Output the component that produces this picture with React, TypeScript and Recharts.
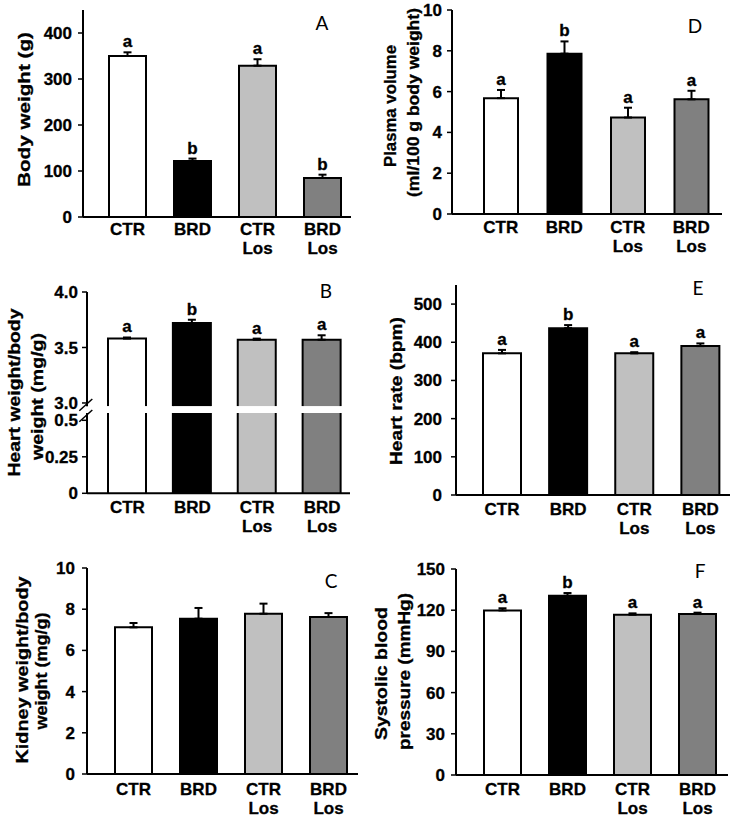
import React from 'react';
import { BarChart, Bar, XAxis, YAxis, ErrorBar, Cell, LabelList } from 'recharts';

const FONT = "'Liberation Sans', Arial, sans-serif";
const LETTER_FONT = "Lato, 'Open Sans', sans-serif";

const groups = ['CTR', 'BRD', 'CTR Los', 'BRD Los'];
const groupColors = ['#ffffff', '#000000', '#c0c0c0', '#808080'];

// A: body weight
const bodyWeight = [350, 122, 329, 85];
const bodyWeightSem = [8, 5, 14, 7];
const bodyWeightLetters = ['a', 'b', 'a', 'b'];
const bodyWeightTicks = [0, 100, 200, 300, 400];

// D: plasma volume
const plasmaVolume = [5.68, 7.86, 4.73, 5.62];
const plasmaVolumeSem = [0.4, 0.6, 0.48, 0.42];
const plasmaVolumeLetters = ['a', 'b', 'a', 'a'];
const plasmaVolumeTicks = [0, 2, 4, 6, 8, 10];

// B: heart weight / body weight (broken axis)
const heartWeight = [3.58, 3.72, 3.57, 3.57];
const heartWeightSem = [0.01, 0.03, 0.01, 0.04];
const heartWeightLetters = ['a', 'b', 'a', 'a'];
const heartWeightUpperTicks = [3.0, 3.5, 4.0];
const heartWeightLowerTicks = [0, 0.25, 0.5];

// E: heart rate
const heartRate = [371, 437, 371, 390];
const heartRateSem = [9, 8, 3, 7];
const heartRateLetters = ['a', 'b', 'a', 'a'];
const heartRateTicks = [0, 100, 200, 300, 400, 500];

// C: kidney weight / body weight
const kidneyWeight = [7.12, 7.54, 7.78, 7.62];
const kidneyWeightSem = [0.21, 0.52, 0.49, 0.19];
const kidneyWeightTicks = [0, 2, 4, 6, 8, 10];

// F: systolic blood pressure
const systolicBP = [119.8, 130.5, 116.7, 117.2];
const systolicBPSem = [1.6, 2.0, 1.0, 1.0];
const systolicBPLetters = ['a', 'b', 'a', 'a'];
const systolicBPTicks = [0, 30, 60, 90, 120, 150];

type PanelProps = {
  values: number[];
  sem?: number[];
  letters?: string[];
  left: number;
  right: number;
  top: number;
  bottom: number;
  domain: [number, number];
  ticks: number[];
  tickFmt?: (v: number) => string;
  padL: number;
  padR: number;
  barSize: number;
  tickGap: number;
  xLabelOffset?: number;
  showX?: boolean;
};

const BarShape = (props: any) => {
  const { x, y, width, height, fill, index } = props;
  if (x == null || y == null || !width) return null;
  const top = Math.min(y, y + height);
  const h = Math.abs(height);
  const f = fill || groupColors[index] || '#fff';
  return (
    <g>
      <rect x={x} y={top} width={width} height={h} fill={f} stroke="none" />
      <path
        d={`M${x},${top + h} L${x},${top} L${x + width},${top} L${x + width},${top + h}`}
        fill="none"
        stroke="#000"
        strokeWidth={2}
      />
    </g>
  );
};

function Panel(p: PanelProps) {
  const MT = 20;
  const YW = 80;
  const MR = 12;
  const XH = 50;
  const HIDDEN_BOTTOM = 14;
  const showX = p.showX !== false;
  const plotW = p.right - p.left;
  const plotH = p.bottom - p.top;
  const chartLeft = p.left - YW;
  const chartTop = p.top - MT;
  const width = plotW + YW + MR;
  const height = plotH + MT + (showX ? XH : HIDDEN_BOTTOM);
  const axisY = MT + plotH;
  const xOff = p.xLabelOffset ?? 20;
  const base = p.domain[0] > 0 ? p.domain[0] : 0;

  const data = groups.map((g, i) => ({
    group: g,
    value: p.values[i],
    err: p.sem ? [0, p.sem[i]] : [0, 0],
    letter: p.letters ? p.letters[i] : '',
  }));

  const renderXTick = (props: any) => {
    const { x, payload } = props;
    const lines = String(payload.value).split(' ');
    return (
      <text
        x={x}
        y={axisY + xOff}
        textAnchor="middle"
        fill="#000"
        stroke="#000"
        strokeWidth={0.3}
        fontSize={17}
        fontWeight={700}
        fontFamily={FONT}
      >
        {lines.map((l, i) => (
          <tspan key={i} x={x} y={axisY + xOff + i * 19}>
            {l}
          </tspan>
        ))}
      </text>
    );
  };

  const renderLetter = (props: any) => {
    const vb = props.viewBox || {};
    const x = props.x ?? vb.x;
    const y = props.y ?? vb.y;
    const w = props.width ?? vb.width;
    const h = props.height ?? vb.height;
    const index = props.index;
    if (x == null || y == null || index == null) return null;
    const v = p.values[index];
    const e = p.sem ? p.sem[index] : 0;
    const ppu = Math.abs(h) / (v - base);
    const barTop = Math.min(y, y + h);
    const errTop = barTop - e * ppu;
    return (
      <text
        x={x + w / 2}
        y={errTop - 5}
        textAnchor="middle"
        fill="#000"
        stroke="#000"
        strokeWidth={0.3}
        fontSize={17}
        fontWeight={700}
        fontFamily={FONT}
      >
        {props.value}
      </text>
    );
  };

  return (
    <div style={{ position: 'absolute', left: chartLeft, top: chartTop }}>
      <BarChart
        width={width}
        height={height}
        data={data}
        margin={{ top: MT, right: MR, left: 0, bottom: showX ? 0 : HIDDEN_BOTTOM }}
      >
        <XAxis
          dataKey="group"
          hide={!showX}
          height={XH}
          padding={{ left: p.padL, right: p.padR }}
          axisLine={{ stroke: '#000', strokeWidth: 2 }}
          tickLine={false}
          interval={0}
          tick={renderXTick}
        />
        <YAxis
          type="number"
          width={YW}
          domain={p.domain}
          ticks={p.ticks}
          interval={0}
          allowDataOverflow
          tickFormatter={p.tickFmt}
          axisLine={{ stroke: '#000', strokeWidth: 2 }}
          tickLine={{ stroke: '#000', strokeWidth: 1.5 }}
          tickSize={5}
          tickMargin={p.tickGap}
          tick={{ fill: '#000', stroke: '#000', strokeWidth: 0.3, fontSize: 17, fontWeight: 700, fontFamily: FONT }}
        />
        <Bar dataKey="value" barSize={p.barSize} isAnimationActive={false} shape={BarShape}>
          {data.map((d, i) => (
            <Cell key={d.group} fill={groupColors[i]} />
          ))}
          {p.sem ? (
            <ErrorBar dataKey="err" direction="y" width={4} stroke="#000" strokeWidth={2} isAnimationActive={false} />
          ) : null}
          {p.letters ? <LabelList dataKey="letter" content={renderLetter} /> : null}
        </Bar>
      </BarChart>
    </div>
  );
}

const VLabel = ({ x, cy, len, text, size = 17 }: { x: number; cy: number; len: number; text: string; size?: number }) => (
  <text
    x={x}
    y={cy}
    transform={`rotate(-90 ${x} ${cy})`}
    textAnchor="middle"
    fontSize={size}
    fontWeight={700}
    fontFamily={FONT}
    fill="#000"
    stroke="#000"
    strokeWidth={0.3}
    textLength={len}
    lengthAdjust="spacingAndGlyphs"
  >
    {text}
  </text>
);

const PanelLetter = ({ x, y, t }: { x: number; y: number; t: string }) => (
  <text x={x} y={y} textAnchor="middle" fontSize={19} fontFamily={LETTER_FONT} fill="#000">
    {t}
  </text>
);

export default function App() {
  return (
    <div style={{ position: 'absolute', left: 0, top: 0, width: 735, height: 818, background: '#fff', overflow: 'hidden' }}>
      {/* A */}
      <Panel
        values={bodyWeight}
        sem={bodyWeightSem}
        letters={bodyWeightLetters}
        left={83}
        right={351}
        top={10}
        bottom={217}
        domain={[0, 450]}
        ticks={bodyWeightTicks}
        padL={12}
        padR={-4}
        barSize={37}
        tickGap={6}
        xLabelOffset={18}
      />
      {/* D */}
      <Panel
        values={plasmaVolume}
        sem={plasmaVolumeSem}
        letters={plasmaVolumeLetters}
        left={452}
        right={722}
        top={10}
        bottom={214}
        domain={[0, 10]}
        ticks={plasmaVolumeTicks}
        padL={17}
        padR={-1}
        barSize={34}
        tickGap={5}
        xLabelOffset={19}
      />
      {/* B lower */}
      <Panel
        values={heartWeight}
        left={87}
        right={350}
        top={412.7}
        bottom={493}
        domain={[0, 0.55]}
        ticks={heartWeightLowerTicks}
        padL={8}
        padR={-4.5}
        barSize={38}
        tickGap={4}
        xLabelOffset={20}
      />
      {/* B upper */}
      <Panel
        values={heartWeight}
        sem={heartWeightSem}
        letters={heartWeightLetters}
        left={87}
        right={350}
        top={291.5}
        bottom={405.8}
        domain={[2.97, 4]}
        ticks={heartWeightUpperTicks}
        tickFmt={(v: number) => v.toFixed(1)}
        padL={8}
        padR={-4.5}
        barSize={38}
        tickGap={4}
        showX={false}
      />
      {/* E */}
      <Panel
        values={heartRate}
        sem={heartRateSem}
        letters={heartRateLetters}
        left={456}
        right={730}
        top={285}
        bottom={495}
        domain={[0, 550]}
        ticks={heartRateTicks}
        padL={13}
        padR={-3.5}
        barSize={38}
        tickGap={9}
        xLabelOffset={20}
      />
      {/* C */}
      <Panel
        values={kidneyWeight}
        sem={kidneyWeightSem}
        left={87}
        right={358}
        top={568}
        bottom={774}
        domain={[0, 10]}
        ticks={kidneyWeightTicks}
        padL={14}
        padR={-3}
        barSize={37}
        tickGap={7}
        xLabelOffset={21}
      />
      {/* F */}
      <Panel
        values={systolicBP}
        sem={systolicBPSem}
        letters={systolicBPLetters}
        left={456}
        right={728}
        top={569}
        bottom={775}
        domain={[0, 150]}
        ticks={systolicBPTicks}
        padL={14}
        padR={-2}
        barSize={37}
        tickGap={6}
        xLabelOffset={20}
      />

      <svg width={735} height={818} style={{ position: 'absolute', left: 0, top: 0, pointerEvents: 'none' }}>
        {/* axis labels */}
        <VLabel x={30} cy={109.5} len={155} text="Body weight (g)" />
        <VLabel x={395.5} cy={106} len={122} text="Plasma volume" />
        <VLabel x={419} cy={102.5} len={189} text="(ml/100 g body weight)" />
        <VLabel x={19.5} cy={392.5} len={168} text="Heart weight/body" />
        <VLabel x={43} cy={396.5} len={127} text="weight (mg/g)" />
        <VLabel x={28} cy={670} len={187} text="Kidney weight/body" />
        <VLabel x={47} cy={671} len={117} text="weight (mg/g)" />
        <VLabel x={402} cy={391} len={148} text="Heart rate (bpm)" />
        <VLabel x={387} cy={673.5} len={133} text="Systolic blood" />
        <VLabel x={410} cy={671.5} len={157} text="pressure (mmHg)" />

        {/* panel letters */}
        <PanelLetter x={322} y={30} t="A" />
        <PanelLetter x={695} y={33} t="D" />
        <PanelLetter x={326} y={298} t="B" />
        <PanelLetter x={698} y={295} t="E" />
        <PanelLetter x={331} y={588} t="C" />
        <PanelLetter x={700} y={578} t="F" />

        {/* axis break marks for panel B */}
        <line x1={79.3} y1={410.7} x2={92.3} y2={399} stroke="#000" strokeWidth={1.5} />
        <line x1={79.3} y1={421.7} x2={92.3} y2={410} stroke="#000" strokeWidth={1.5} />
      </svg>
    </div>
  );
}
